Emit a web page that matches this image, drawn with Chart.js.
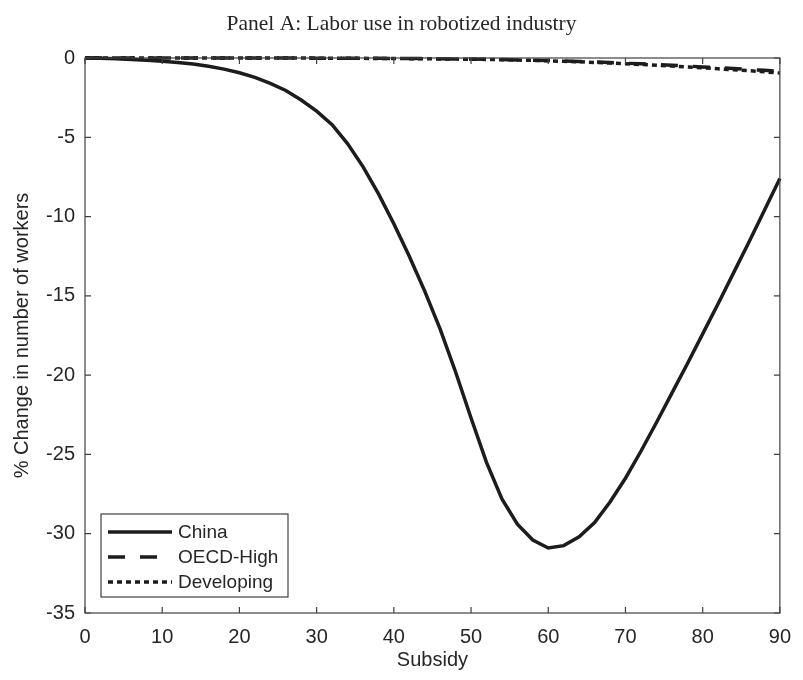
<!DOCTYPE html>
<html>
<head>
<meta charset="utf-8">
<title>Labor use in robotized industry</title>
<script src="https://cdn.jsdelivr.net/npm/chart.js@4.4.1/dist/chart.umd.min.js"></script>
<style>
  html, body { margin: 0; padding: 0; background: #fff; }
  #wrap { width: 803px; height: 680px; }
</style>
</head>
<body>
<div id="wrap"><canvas id="laborChart" width="803" height="680"></canvas></div>
<script>
// subsidy levels on the x axis
const subsidy = [0, 2, 4, 6, 8, 10, 12, 14, 16, 18, 20, 22, 24, 26, 28, 30, 32, 34, 36, 38, 40, 42, 44,
  46, 48, 50, 52, 54, 56, 58, 60, 62, 64, 66, 68, 70, 72, 74, 76, 78, 80, 82, 84, 86, 88, 90];

// % change in number of workers
const china = [0, -0.02, -0.05, -0.09, -0.14, -0.2, -0.28, -0.38, -0.52, -0.7, -0.93, -1.22, -1.6, -2.05,
  -2.65, -3.35, -4.2, -5.4, -6.85, -8.55, -10.45, -12.5, -14.7, -17.1, -19.8, -22.7, -25.5, -27.8, -29.4,
  -30.4, -30.9, -30.75, -30.2, -29.3, -28.0, -26.5, -24.8, -23.0, -21.15, -19.3, -17.4, -15.5, -13.55,
  -11.6, -9.6, -7.6];
const oecdHigh = [0, 0, 0, 0, 0, 0, 0, 0, 0, 0, 0, 0, 0, 0, 0, -0.01, -0.01, -0.01, -0.02, -0.02,
  -0.03, -0.03, -0.04, -0.05, -0.06, -0.07, -0.08, -0.1, -0.12, -0.14, -0.16, -0.19, -0.22, -0.25,
  -0.29, -0.33, -0.37, -0.41, -0.46, -0.51, -0.56, -0.61, -0.66, -0.72, -0.78, -0.84];
const developing = [0, 0, 0, 0, 0, 0, 0, 0, 0, 0, 0, 0, 0, 0, 0, -0.01, -0.01, -0.02, -0.02, -0.03,
  -0.03, -0.04, -0.05, -0.06, -0.07, -0.08, -0.09, -0.11, -0.13, -0.15, -0.18, -0.21, -0.24, -0.28,
  -0.32, -0.36, -0.41, -0.46, -0.51, -0.56, -0.62, -0.68, -0.74, -0.8, -0.87, -0.95];

const seriesNames = ['China', 'OECD-High', 'Developing'];
const xTicks = [0, 10, 20, 30, 40, 50, 60, 70, 80, 90];
const yTicks = [-35, -30, -25, -20, -15, -10, -5, 0];

const titleText = 'Panel A: Labor use in robotized industry';
const ink = '#262626';
const axisColor = '#404040';
const sansFamily = '"Liberation Sans", Arial, sans-serif';
const sansFont = { family: sansFamily, size: 20 };

function toPoints(ys) {
  return subsidy.map((x, i) => ({ x: x, y: ys[i] }));
}

// title, box, inward ticks and the legend are drawn after the datasets
const framePlugin = {
  id: 'frame',
  afterDraw(chart) {
    const ctx = chart.ctx;
    const area = chart.chartArea;
    const xs = chart.scales.x;
    const ys = chart.scales.y;
    ctx.save();

    // title
    ctx.fillStyle = ink;
    ctx.font = '21.5px "Liberation Serif", "Times New Roman", serif';
    ctx.textAlign = 'center';
    ctx.textBaseline = 'middle';
    ctx.fillText(titleText, chart.width / 2, 24);

    // axes box
    ctx.strokeStyle = axisColor;
    ctx.lineWidth = 1.2;
    ctx.strokeRect(area.left, area.top, area.right - area.left, area.bottom - area.top);

    // tick marks pointing into the plot
    const tl = 6;
    ctx.beginPath();
    xTicks.forEach(v => {
      const px = xs.getPixelForValue(v);
      ctx.moveTo(px, area.bottom); ctx.lineTo(px, area.bottom - tl);
      ctx.moveTo(px, area.top); ctx.lineTo(px, area.top + tl);
    });
    yTicks.forEach(v => {
      const py = ys.getPixelForValue(v);
      ctx.moveTo(area.left, py); ctx.lineTo(area.left + tl, py);
      ctx.moveTo(area.right, py); ctx.lineTo(area.right - tl, py);
    });
    ctx.stroke();

    // legend box in the lower left corner
    const bw = 187, bh = 83;
    const bx = area.left + 16;
    const by = area.bottom - 16 - bh;
    ctx.fillStyle = '#fff';
    ctx.fillRect(bx, by, bw, bh);
    ctx.strokeStyle = axisColor;
    ctx.lineWidth = 1.2;
    ctx.strokeRect(bx, by, bw, bh);

    ctx.font = '19px ' + sansFamily;
    ctx.textAlign = 'left';
    ctx.textBaseline = 'middle';
    chart.data.datasets.forEach((d, i) => {
      const y = by + 18 + i * 25;
      ctx.strokeStyle = d.borderColor;
      ctx.lineWidth = d.borderWidth;
      ctx.setLineDash(d.borderDash || []);
      ctx.beginPath();
      ctx.moveTo(bx + 7, y);
      ctx.lineTo(bx + 71, y);
      ctx.stroke();
      ctx.setLineDash([]);
      ctx.fillStyle = ink;
      ctx.fillText(d.label, bx + 77, y + 1);
    });
    ctx.restore();
  }
};

const ctx = document.getElementById('laborChart');
new Chart(ctx, {
  type: 'line',
  data: {
    datasets: [
      {
        label: seriesNames[0],
        data: toPoints(china),
        borderColor: '#1c1c1c',
        borderWidth: 3.5,
        pointRadius: 0,
        tension: 0,
        clip: false,
      },
      {
        label: seriesNames[1],
        data: toPoints(oecdHigh),
        borderColor: '#1c1c1c',
        borderWidth: 3.5,
        borderDash: [17, 15],
        pointRadius: 0,
        tension: 0,
        clip: false,
      },
      {
        label: seriesNames[2],
        data: toPoints(developing),
        borderColor: '#1c1c1c',
        borderWidth: 3.5,
        borderDash: [5, 4],
        pointRadius: 0,
        tension: 0,
        clip: false,
      },
    ],
  },
  options: {
    responsive: false,
    animation: false,
    devicePixelRatio: 1,
    layout: { padding: { top: 58, right: 14, bottom: 0, left: 0 } },
    plugins: {
      legend: { display: false },
      title: { display: false },
      tooltip: { enabled: false },
    },
    scales: {
      x: {
        type: 'linear',
        min: 0,
        max: 90,
        afterBuildTicks: (s) => { s.ticks = xTicks.map(v => ({ value: v })); },
        afterFit: (s) => { s.height = 67; },
        grid: { display: false, drawTicks: false },
        border: { display: false },
        ticks: { font: sansFont, color: ink, padding: 12, maxRotation: 0 },
        title: {
          display: true,
          text: 'Subsidy',
          font: sansFont,
          color: ink,
          padding: { top: 0, bottom: 8 },
        },
      },
      y: {
        type: 'linear',
        min: -35,
        max: 0,
        afterBuildTicks: (s) => { s.ticks = yTicks.map(v => ({ value: v })); },
        afterFit: (s) => { s.width = 85; },
        grid: { display: false, drawTicks: false },
        border: { display: false },
        ticks: { font: sansFont, color: ink, padding: 10 },
        title: {
          display: true,
          text: '% Change in number of workers',
          font: sansFont,
          color: ink,
          padding: { top: 10, bottom: 0 },
        },
      },
    },
  },
  plugins: [framePlugin],
});
</script>
</body>
</html>
